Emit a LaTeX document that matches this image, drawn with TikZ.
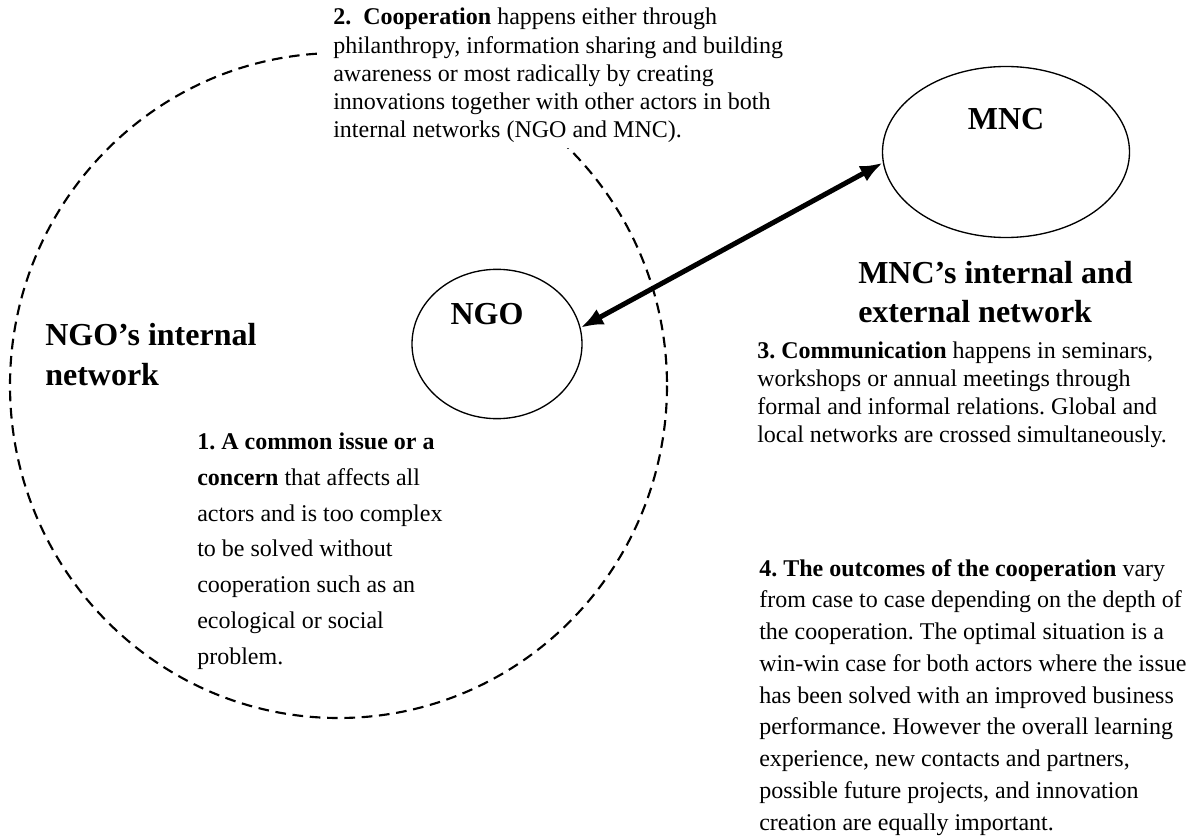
\documentclass[tikz,border=0pt]{standalone}
\usepackage{fontspec}
\setmainfont{Liberation Serif}
\usetikzlibrary{arrows.meta,shapes.geometric}
\frenchspacing

\begin{document}
\begin{tikzpicture}[x=0.75pt,y=0.75pt,yscale=-1,xscale=1,
    actor/.style={draw, ellipse, line width=1pt, inner sep=0pt},
    actorname/.style={anchor=base, inner sep=0pt, font=\fontsize{24}{30}\selectfont\bfseries},
    netname/.style={anchor=base west, inner sep=0pt, align=left, font=\fontsize{24}{30}\selectfont\bfseries},
    note/.style={anchor=base west, inner sep=0pt, align=left, font=\fontsize{18}{23.8}\selectfont},
    link/.style={line width=3.75pt, {Latex[length=17pt,width=13pt]}-{Latex[length=17pt,width=13pt]}}]
\useasboundingbox (0,0) rectangle (1197,838);

%Shape: Ellipse [NGO's internal network]
\draw [line width=1.6pt, dash pattern=on 8pt off 5pt] (338.5,385.5) ellipse [x radius=328.5, y radius=332.5];

% Text Node (base = last line)
\node [note, font=\fontsize{18}{21.2}\selectfont, fill=white, inner xsep=12pt, inner ysep=4pt] (coop) at (317,138)
  {\textbf{2.\ \ Cooperation} happens either through\\
   philanthropy, information sharing and building\\
   awareness or most radically by creating\\
   innovations together with other actors in both\\
   internal networks (NGO and MNC).};

%Shape: Ellipse [NGO]
\node [actor, minimum width=127.5pt, minimum height=112pt] (ngo) at (497,344) {};
%Shape: Ellipse [MNC]
\node [actor, minimum width=185.25pt, minimum height=128.25pt] (mnc) at (1006,152) {};

%Straight Lines
\draw [link] (ngo.11) -- (mnc.185);

% Text Node
\node [actorname] (ngoname) at (487,325) {NGO};
% Text Node
\node [actorname] (mncname) at (1006,130) {MNC};
% Text Node
\node [netname] (ngonet) at (45,385) {NGO’s internal\\ network};
% Text Node
\node [netname] (mncnet) at (858,323) {MNC’s internal and\\ external network};

% Text Node
\node [note, font=\fontsize{18}{26.8}\selectfont] (issue) at (197,664)
  {\textbf{1. A common issue or a}\\
   \textbf{concern} that affects all\\
   actors and is too complex\\
   to be solved without\\
   cooperation such as an\\
   ecological or social\\
   problem.};
% Text Node
\node [note, font=\fontsize{18}{20.8}\selectfont] (comm) at (757,442)
  {\textbf{3. Communication} happens in seminars,\\
   workshops or annual meetings through\\
   formal and informal relations. Global and\\
   local networks are crossed simultaneously.};
% Text Node
\node [note] (outcome) at (759,830)
  {\textbf{4. The outcomes of the cooperation} vary\\
   from case to case depending on the depth of\\
   the cooperation. The optimal situation is a\\
   win-win case for both actors where the issue\\
   has been solved with an improved business\\
   performance. However the overall learning\\
   experience, new contacts and partners,\\
   possible future projects, and innovation\\
   creation are equally important.};
\end{tikzpicture}
\end{document}
